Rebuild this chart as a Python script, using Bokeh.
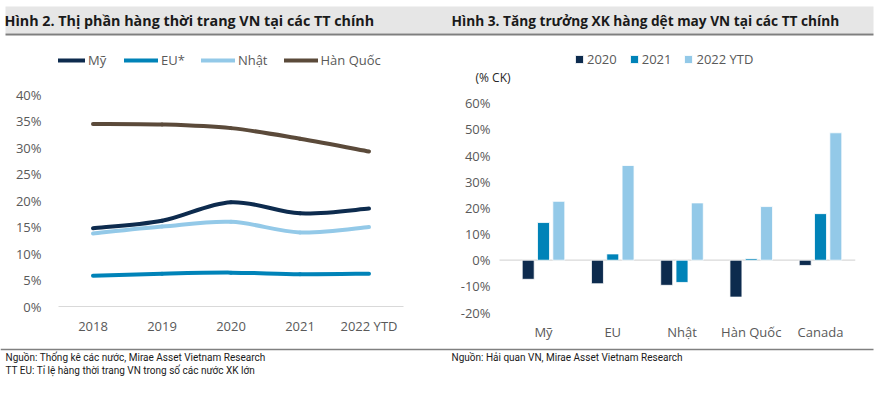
from bokeh.plotting import figure
from bokeh.models import (Range1d, FixedTicker, PrintfTickFormatter, Legend, LegendItem,
                          Label, BoxAnnotation, ColumnDataSource)
from bokeh.layouts import column, row
from bokeh.transform import dodge
from bokeh.embed import file_html
from bokeh.resources import INLINE

# ---------------- data ----------------
years = ["2018", "2019", "2020", "2021", "2022 YTD"]
share_my = [14.8, 16.2, 19.7, 17.6, 18.5]
share_eu = [5.8, 6.2, 6.4, 6.1, 6.2]
share_nhat = [13.8, 15.1, 16.0, 14.0, 15.0]
share_hq = [34.5, 34.4, 33.7, 31.7, 29.3]
share_names = ["Mỹ", "EU*", "Nhật", "Hàn Quốc"]
share_ticks = [0, 5, 10, 15, 20, 25, 30, 35, 40]

markets = ["Mỹ", "EU", "Nhật", "Hàn Quốc", "Canada"]
g2020 = [-7.3, -9.0, -9.6, -14.1, -2.0]
g2021 = [14.4, 2.4, -8.5, 0.6, 17.8]
g2022 = [22.5, 36.2, 21.9, 20.5, 48.7]
growth_names = ["2020", "2021", "2022 YTD"]
growth_ticks = [-20, -10, 0, 10, 20, 30, 40, 50, 60]

title_left = "Hình 2. Thị phần hàng thời trang VN tại các TT chính"
title_right = "Hình 3. Tăng trưởng XK hàng dệt may VN tại các TT chính"
src_left1 = "Nguồn: Thống kê các nước, Mirae Asset Vietnam Research"
src_left2 = "TT EU: Tỉ lệ hàng thời trang VN trong số các nước XK lớn"
src_right = "Nguồn: Hải quan VN, Mirae Asset Vietnam Research"
unit_right = "(% CK)"

# ---------------- styles ----------------
FONT = "Open Sans"
SMALL = "Roboto"
TXT = "#595959"
C_MY = "#0d2b4e"
C_EU = "#0083b8"
C_NHAT = "#93c9e8"
C_HQ = "#5b4a3a"
W = 890


def deco_fig(h):
    f = figure(width=W, height=h, x_range=Range1d(0, W), y_range=Range1d(h, 0),
               output_backend="svg", toolbar_location=None, x_axis_type=None,
               y_axis_type=None, min_border=0, outline_line_color=None)
    f.grid.visible = False
    return f


# ---------------- title band ----------------
tf = deco_fig(36)
tf.add_layout(BoxAnnotation(left=5, right=873, top=6, bottom=33, fill_color="#e6e6e6",
                            fill_alpha=1, line_color=None, level="underlay"))
tf.add_layout(BoxAnnotation(left=5, right=873, top=33, bottom=35, fill_color="#7f7f7f",
                            fill_alpha=1, line_color=None, level="underlay"))
for xx, t, fs in [(4, title_left, "14.3px"), (451, title_right, "13.7px")]:
    tf.add_layout(Label(x=xx, y=20, text=t, text_baseline="middle", text_align="left",
                        text_font=FONT, text_font_style="bold", text_font_size=fs,
                        text_color="#1a1a1a"))


def style(p):
    p.xgrid.visible = False
    p.ygrid.visible = False
    for ax in (p.xaxis[0], p.yaxis[0]):
        ax.major_tick_line_color = None
        ax.minor_tick_line_color = None
        ax.major_label_text_font = FONT
        ax.major_label_text_font_size = "13px"
        ax.major_label_text_color = TXT
    p.yaxis[0].axis_line_color = None


# ---------------- left chart ----------------
lf = figure(frame_width=345, frame_height=262, x_range=Range1d(-0.5, 4.5),
            y_range=Range1d(0, 49.5), output_backend="svg", toolbar_location=None,
            min_border_left=58, min_border_right=50, min_border_top=8,
            min_border_bottom=40, outline_line_color=None)
style(lf)
lf.xaxis[0].axis_line_color = "#d9d9d9"
lf.xaxis[0].ticker = FixedTicker(ticks=list(range(len(years))))
lf.xaxis[0].major_label_overrides = {i: y for i, y in enumerate(years)}
lf.xaxis[0].major_label_standoff = 4
lf.yaxis[0].ticker = FixedTicker(ticks=share_ticks)
lf.yaxis[0].formatter = PrintfTickFormatter(format="%d%%")
lf.yaxis[0].major_label_standoff = 11


def smooth_source(ys):
    xs = list(range(len(ys)))
    n = len(ys)
    d = dict(x0=[], y0=[], x1=[], y1=[], cx0=[], cy0=[], cx1=[], cy1=[])
    for i in range(n - 1):
        im = max(i - 1, 0)
        ip = min(i + 2, n - 1)
        d["x0"].append(xs[i]); d["y0"].append(ys[i])
        d["x1"].append(xs[i + 1]); d["y1"].append(ys[i + 1])
        d["cx0"].append(xs[i] + (xs[i + 1] - xs[im]) / 6)
        d["cy0"].append(ys[i] + (ys[i + 1] - ys[im]) / 6)
        d["cx1"].append(xs[i + 1] - (xs[ip] - xs[i]) / 6)
        d["cy1"].append(ys[i + 1] - (ys[ip] - ys[i]) / 6)
    return ColumnDataSource(d)


items = []
for name, ys, col in zip(share_names, [share_my, share_eu, share_nhat, share_hq],
                         [C_MY, C_EU, C_NHAT, C_HQ]):
    r = lf.bezier(x0="x0", y0="y0", x1="x1", y1="y1", cx0="cx0", cy0="cy0", cx1="cx1",
                  cy1="cy1", source=smooth_source(ys), line_color=col, line_width=4,
                  line_cap="round")
    items.append(LegendItem(label=name, renderers=[r]))

leg = Legend(items=items, orientation="horizontal", location=(-7, 237),
             glyph_width=34, glyph_height=16, label_height=16, label_standoff=3,
             spacing=16, padding=0, margin=0, border_line_color=None,
             background_fill_alpha=0, label_text_font=FONT,
             label_text_font_size="13px", label_text_color=TXT)
lf.add_layout(leg)

# ---------------- right chart ----------------
rf = figure(frame_width=385, frame_height=269, x_range=Range1d(-1.0542, 4.5054),
            y_range=Range1d(-20.37, 82.45), output_backend="svg", toolbar_location=None,
            min_border_left=17, min_border_right=35, min_border_top=8,
            min_border_bottom=33, outline_line_color=None)
style(rf)
rf.xaxis[0].axis_line_color = None
rf.xaxis[0].ticker = FixedTicker(ticks=list(range(len(markets))))
rf.xaxis[0].major_label_overrides = {i: m for i, m in enumerate(markets)}
rf.xaxis[0].major_label_standoff = 3
rf.yaxis[0].ticker = FixedTicker(ticks=growth_ticks)
rf.yaxis[0].formatter = PrintfTickFormatter(format="%d%%")
rf.yaxis[0].major_label_standoff = -26

# zero line starting where the value axis begins
rf.segment(x0=[-0.635], y0=[0], x1=[4.5054], y1=[0], line_color="#d9d9d9", line_width=1.2,
           level="underlay")

bsrc = ColumnDataSource(dict(idx=list(range(len(markets))), g2020=g2020, g2021=g2021,
                             g2022=g2022))
bw = 0.173
off = 0.221
r_items = []
for key, o, col, name in zip(["g2020", "g2021", "g2022"], [-off, 0, off],
                             [C_MY, C_EU, C_NHAT], growth_names):
    r = rf.vbar(x=dodge("idx", o, range=rf.x_range), top=key, bottom=0, width=bw,
                source=bsrc, fill_color=col, line_color="white", line_width=0.8)
    r_items.append(LegendItem(label=name, renderers=[r]))

rleg = Legend(items=r_items, orientation="horizontal", location=(104, 245),
              glyph_width=10, glyph_height=10, label_height=16, label_standoff=3,
              spacing=12, padding=0, margin=0, border_line_color=None,
              background_fill_alpha=0, label_text_font=FONT,
              label_text_font_size="13px", label_text_color=TXT)
rf.add_layout(rleg)
rf.add_layout(Label(x=-0.9816, y=69.8, text=unit_right, text_baseline="middle",
                    text_align="left", text_font=FONT, text_font_size="12px",
                    text_color="#262626"))

# ---------------- footer ----------------
ff = deco_fig(49)
ff.add_layout(BoxAnnotation(left=0, right=873, top=2.3, bottom=3.8, fill_color="#808080",
                            fill_alpha=1, line_color=None, level="underlay"))
for xx, yy, t in [(5, 11, src_left1), (5, 23.5, src_left2), (451, 11, src_right)]:
    ff.add_layout(Label(x=xx, y=yy, text=t, text_baseline="middle", text_align="left",
                        text_font=SMALL, text_font_size="10px", text_color="#1a1a1a"))

layout = column(tf, row(lf, rf), ff)
open("out.html", "w").write(file_html(layout, INLINE))
